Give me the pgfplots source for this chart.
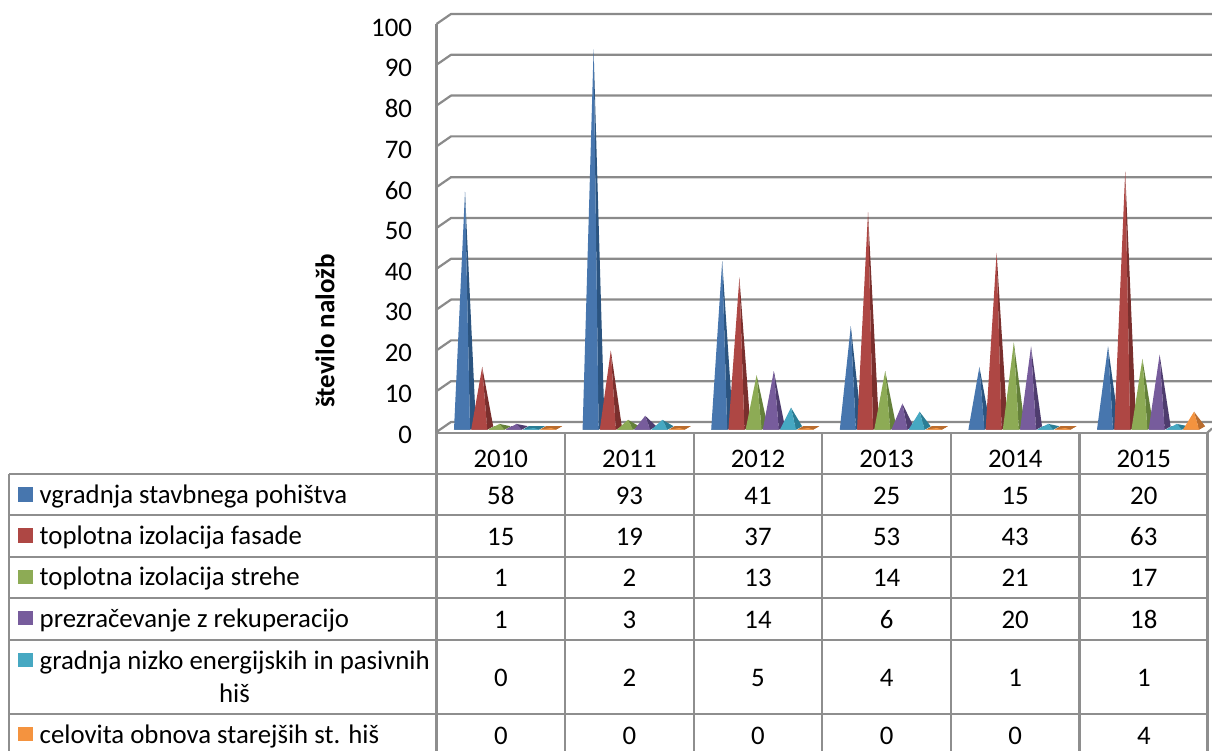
\documentclass[border=0pt]{standalone}
\usepackage{pgfplots}
\pgfplotsset{compat=1.18}
\usepackage{fontspec}
\setmainfont{Carlito}
\definecolor{gridc}{HTML}{8A8A8A}
\definecolor{tablec}{HTML}{8E8E8E}
\definecolor{bluef}{HTML}{4776AE}\definecolor{blues}{HTML}{2B5480}
\definecolor{redf}{HTML}{AE4744}\definecolor{reds}{HTML}{7A2F2D}
\definecolor{greenf}{HTML}{8DAB55}\definecolor{greens}{HTML}{64803A}
\definecolor{purplef}{HTML}{775C9C}\definecolor{purples}{HTML}{4E3C6E}
\definecolor{tealf}{HTML}{46A8C2}\definecolor{teals}{HTML}{2B7D94}
\definecolor{orangef}{HTML}{F4933F}\definecolor{oranges}{HTML}{B96C2E}
% one pyramid: category index, series index, value, colour stem
\newcommand{\pyr}[4]{%
  \pgfmathsetmacro{\xa}{#1+0.136+#2*0.1338}%
  \pgfmathsetmacro{\xb}{\xa+0.1244}%
  \pgfmathsetmacro{\xc}{\xa+0.0855}%
  \pgfmathsetmacro{\xd}{\xa+0.171}%
  \pgfmathsetmacro{\xe}{\xa+0.0466}%
  \addplot[draw=none,fill=#4s,forget plot] coordinates {(\xa,-0.4)(\xb,-0.4)(\xd,0.45)(\xe,0.45)} --cycle;
  \addplot[draw=none,fill=#4s,forget plot] coordinates {(\xb,-0.4)(\xc,#3)(\xd,0.45)} --cycle;
  \addplot[draw=none,fill=#4f,forget plot] coordinates {(\xa,-0.4)(\xc,#3)(\xb,-0.4)} --cycle;
}
\newcommand{\series}[8]{%
  \pyr{0}{#1}{#3}{#2}\pyr{1}{#1}{#4}{#2}\pyr{2}{#1}{#5}{#2}%
  \pyr{3}{#1}{#6}{#2}\pyr{4}{#1}{#7}{#2}\pyr{5}{#1}{#8}{#2}%
}
\newcommand{\tf}{\fontsize{26.8}{31}\selectfont}
\newcommand{\trow}[7]{%
  \node[anchor=base] at (500.8,#1) {\tf #2};
  \node[anchor=base] at (629.4,#1) {\tf #3};
  \node[anchor=base] at (758,#1) {\tf #4};
  \node[anchor=base] at (886.6,#1) {\tf #5};
  \node[anchor=base] at (1015.2,#1) {\tf #6};
  \node[anchor=base] at (1143.8,#1) {\tf #7};
}
\begin{document}
\begin{tikzpicture}
\path[use as bounding box] (0,0) rectangle (1212pt,751pt);
\begin{scope}[x=1pt,y=-1pt,yshift=751pt]
  % walls and gridlines
  \foreach \i in {0,...,10}{
    \pgfmathsetmacro{\yb}{14+40.8*\i}
    \pgfmathsetmacro{\yf}{24+40.8*\i}
    \draw[gridc,line width=2.2pt,line join=round] (436.5,\yf) -- (451,\yb) -- (1212,\yb);
  }
  \draw[gridc,line width=2.2pt] (436.5,24) -- (436.5,433);
  \draw[gridc,line width=2.2pt] (1207,433) -- (1212,428.5);
  % data table rules
  \draw[tablec,line width=2.2pt] (436.5,433) -- (1207.5,433);
  \foreach \x in {436.5,565,693.6,822.2,950.8,1079.4,1207.5}
    \draw[tablec,line width=2.2pt] (\x,433) -- (\x,751);
  \foreach \y in {474,515.3,556.7,598,640,714}
    \draw[tablec,line width=2.2pt] (9,\y) -- (1207.5,\y);
  \draw[tablec,line width=2.2pt] (9,474) -- (9,751);
  % legend keys
  \fill[bluef]   (18,487.3) rectangle (33.3,501.7);
  \fill[redf]    (18,528)   rectangle (33.3,543);
  \fill[greenf]  (18,570)   rectangle (33.3,584.5);
  \fill[purplef] (18,611)   rectangle (33.3,625.5);
  \fill[tealf]   (18,653)   rectangle (33.3,667.5);
  \fill[orangef] (18,727)   rectangle (33.3,741.5);
  % row names
  \node[anchor=base west,inner sep=0pt] at (39.5,503.5) {\tf vgradnja stavbnega pohištva};
  \node[anchor=base west,inner sep=0pt] at (39.5,544.5) {\tf toplotna izolacija fasade};
  \node[anchor=base west,inner sep=0pt] at (39.5,585.5) {\tf toplotna izolacija strehe};
  \node[anchor=base west,inner sep=0pt] at (39.5,627.5) {\tf prezračevanje z rekuperacijo};
  \node[anchor=base west,inner sep=0pt] at (39.5,669.5) {\tf gradnja nizko energijskih in pasivnih};
  \node[anchor=base,inner sep=0pt] at (234.5,702.5) {\tf hiš};
  \node[anchor=base west,inner sep=0pt] at (39.5,743.5) {\tf celovita obnova starejših st. hiš};
  % row values
  \trow{504.5}{58}{93}{41}{25}{15}{20}
  \trow{545.5}{15}{19}{37}{53}{43}{63}
  \trow{586.5}{1}{2}{13}{14}{21}{17}
  \trow{628.5}{1}{3}{14}{6}{20}{18}
  \trow{686.5}{0}{2}{5}{4}{1}{1}
  \trow{744.5}{0}{0}{0}{0}{0}{4}
\end{scope}
\begin{axis}[
  at={(436.5pt,323pt)},anchor=origin,
  x=128.6pt,y=4.07pt,
  xmin=0,xmax=6,ymin=0,ymax=100,
  clip=false,
  axis line style={draw=none},
  tick style={draw=none},
  xtick={0.5,1.5,2.5,3.5,4.5,5.5},
  xticklabels={2010,2011,2012,2013,2014,2015},
  ytick={0,10,...,100},
  xticklabel style={font=\tf,anchor=base,yshift=-39.5pt},
  yticklabel style={font=\tf,anchor=east,xshift=-21pt,yshift=-6.5pt,/pgf/number format/assume math mode=true},
  ylabel={število naložb},
  every axis y label/.style={at={(axis description cs:-0.1445,0.238)},rotate=90,anchor=center,font=\fontsize{27}{30}\selectfont\bfseries},
]
\series{0}{blue}{58}{93}{41}{25}{15}{20}
\series{1}{red}{15}{19}{37}{53}{43}{63}
\series{2}{green}{1}{2}{13}{14}{21}{17}
\series{3}{purple}{1}{3}{14}{6}{20}{18}
\series{4}{teal}{0}{2}{5}{4}{1}{1}
\series{5}{orange}{0}{0}{0}{0}{0}{4}
\end{axis}
\end{tikzpicture}
\end{document}
